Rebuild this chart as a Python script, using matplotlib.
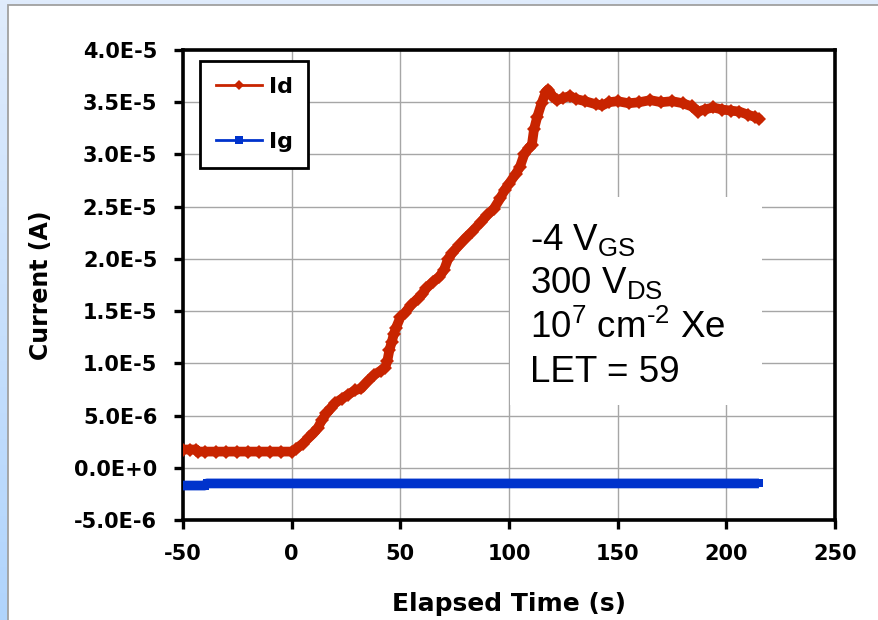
import numpy as np
import matplotlib
matplotlib.use("Agg")
import matplotlib.pyplot as plt
from matplotlib.patches import Rectangle
from matplotlib.lines import Line2D

# ---------------- data ----------------
id_time = [-50, -47, -44, -43, -40, -35, -30, -25, -20, -15, -10, -5, 0,
           2, 5, 8, 10, 12, 14, 16, 18, 20, 23, 26, 29, 32, 35, 38, 41, 43,
           44, 45, 46, 47, 48, 50, 52, 55, 58, 60, 62, 65, 68, 70, 72, 74,
           77, 80, 83, 87, 90, 93, 96, 98, 100, 103, 105, 107, 109, 110.5,
           111.5, 113, 115, 117, 118, 120, 122, 125, 128, 131, 135, 140, 143,
           146, 150, 155, 160, 165, 170, 175, 180, 184, 187, 190, 194, 198,
           202, 206, 210, 213, 215]
id_uA = [1.75, 1.75, 1.75, 1.55, 1.55, 1.55, 1.55, 1.55, 1.55, 1.55, 1.55, 1.55, 1.55,
         1.8, 2.3, 2.9, 3.3, 3.8, 4.6, 5.2, 5.7, 6.2, 6.6, 7.0, 7.4, 7.6, 8.3, 8.9, 9.3, 9.6,
         10.2, 11.3, 12.0, 12.8, 13.4, 14.4, 14.8, 15.6, 16.2, 16.6, 17.2, 17.8, 18.3, 18.9, 20.0, 20.6,
         21.3, 22.0, 22.6, 23.5, 24.2, 24.8, 25.8, 26.6, 27.2, 28.1, 28.8, 30.0, 30.6, 30.9,
         32.4, 33.6, 34.9, 36.0, 36.2, 35.6, 35.2, 35.4, 35.6, 35.3, 35.1, 34.8, 34.7,
         35.0, 35.1, 34.9, 35.0, 35.2, 35.0, 35.1, 34.9, 34.6, 34.1, 34.3, 34.5, 34.3,
         34.2, 34.1, 33.8, 33.6, 33.4]

ig_time = [-50, -45, -40, -39, 0, 50, 100, 150, 200, 215]
ig_uA = [-1.7, -1.7, -1.7, -1.5, -1.5, -1.5, -1.5, -1.5, -1.5, -1.5]

series_labels = ["Id", "Ig"]
x_ticks = [-50, 0, 50, 100, 150, 200, 250]
y_ticks = [-5e-6, 0, 5e-6, 1e-5, 1.5e-5, 2e-5, 2.5e-5, 3e-5, 3.5e-5, 4e-5]
y_tick_labels = ["-5.0E-6", "0.0E+0", "5.0E-6", "1.0E-5", "1.5E-5", "2.0E-5",
                 "2.5E-5", "3.0E-5", "3.5E-5", "4.0E-5"]
annot_lines = [r"-4 V$_{\mathrm{GS}}$", r"300 V$_{\mathrm{DS}}$",
               r"10$^{7}$ cm$^{\text{-}2}$ Xe", "LET = 59"]

# ---------------- style ----------------
plt.rcParams["mathtext.fontset"] = "custom"
plt.rcParams["mathtext.rm"] = "Liberation Sans"
plt.rcParams["mathtext.it"] = "Liberation Sans:italic"
plt.rcParams["mathtext.bf"] = "Liberation Sans:bold"

W, H = 879, 620
fig = plt.figure(figsize=(W / 100, H / 100), dpi=100)

# background gradient + white panel
bg = fig.add_axes([0, 0, 1, 1])
top = np.array([224, 236, 252]) / 255
bot = np.array([176, 212, 252]) / 255
grad = np.linspace(0, 1, 256)[:, None, None] * (bot - top) + top
bg.imshow(grad, aspect="auto", extent=[0, 1, 0, 1], origin="upper")
bg.add_patch(Rectangle((8 / W, -0.1), 1.2, 1.1 - 5 / H,
                       facecolor="white", edgecolor="#a0a0a0", linewidth=1.3))
bg.set_xlim(0, 1)
bg.set_ylim(0, 1)
bg.axis("off")

ax = fig.add_axes([183 / W, 1 - 520 / H, (835 - 183) / W, (520 - 50) / H])
ax.set_facecolor("none")

ax.set_xlim(-50, 250)
ax.set_ylim(-5e-6, 4e-5)
ax.set_xticks(x_ticks)
ax.set_xticklabels([str(v) for v in x_ticks])
ax.set_yticks(y_ticks)
ax.set_yticklabels(y_tick_labels)

ax.set_axisbelow(True)
ax.grid(True, color="#a6a6a6", linewidth=1.0)

for s in ax.spines.values():
    s.set_linewidth(2.6)
    s.set_color("black")

for lab in ax.get_xticklabels() + ax.get_yticklabels():
    lab.set_fontfamily("DejaVu Sans")
    lab.set_fontweight("bold")
    lab.set_fontsize(15)
ax.tick_params(axis="both", direction="out", length=6.5, width=2.4, color="black")
ax.tick_params(axis="y", pad=12)
ax.tick_params(axis="x", pad=11)

ax.set_xlabel("Elapsed Time (s)", fontfamily="DejaVu Sans", fontweight="bold",
              fontsize=18, labelpad=20)
ax.set_ylabel("Current (A)", fontfamily="DejaVu Sans", fontweight="bold",
              fontsize=17, labelpad=15)

id_col = "#c82400"
ig_col = "#0033cc"

ax.plot(id_time, np.array(id_uA) * 1e-6, color=id_col, lw=7, marker="D",
        ms=7.5, mew=0, zorder=4, solid_joinstyle="round", solid_capstyle="round")
ax.plot(ig_time, np.array(ig_uA) * 1e-6, color=ig_col, lw=7, marker="s",
        ms=6, mew=0, zorder=4, solid_capstyle="butt")

# annotation box
ax.add_patch(Rectangle((510 / W, 1 - 405 / H), 252 / W, 208 / H,
                       transform=fig.transFigure, facecolor="white",
                       edgecolor="none", zorder=2))
baselines = [250, 293, 338, 382]
for txt, yb in zip(annot_lines, baselines):
    fig.text(530 / W, 1 - yb / H, txt, fontfamily="Liberation Sans",
             fontsize=26.5, va="baseline", ha="left", zorder=10)

# legend
handles = [Line2D([], [], color=id_col, lw=2, marker="D", ms=5, mew=0),
           Line2D([], [], color=ig_col, lw=2, marker="s", ms=6, mew=0)]
leg = ax.legend(handles, series_labels, loc="upper left",
                bbox_to_anchor=(17 / 652, 1 - 11 / 470),
                prop=dict(family="DejaVu Sans", weight="bold", size=16),
                frameon=True, fancybox=False, edgecolor="black",
                handlelength=2.1, handletextpad=0.3, labelspacing=1.6,
                borderpad=0.7, borderaxespad=0)
leg.get_frame().set_linewidth(2.0)
leg.get_frame().set_facecolor("white")
leg.get_frame().set_alpha(1)
leg.set_zorder(6)

fig.savefig("out.png", dpi=100)
